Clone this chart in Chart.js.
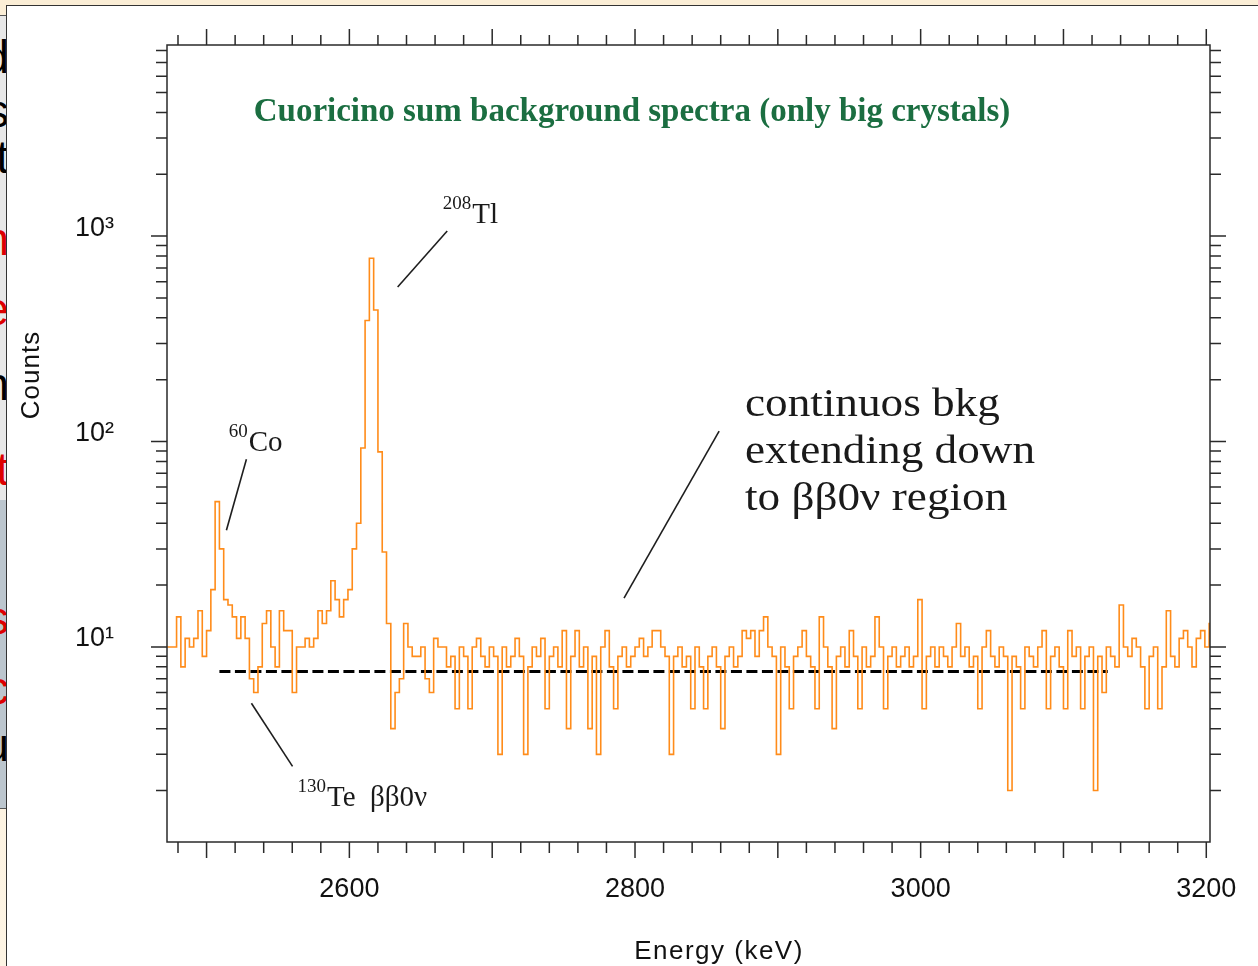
<!DOCTYPE html>
<html>
<head>
<meta charset="utf-8">
<script src="https://cdn.jsdelivr.net/npm/chart.js@4.4.1/dist/chart.umd.min.js"></script>
<style>
  html, body { margin: 0; padding: 0; }
  body { width: 1258px; height: 966px; overflow: hidden; position: relative;
         background: linear-gradient(#fbeed6, #fdf4e4); }
  #panel { position: absolute; left: 6px; top: 5px; right: 0; bottom: 0; background: #fff;
           border-left: 1.5px solid #333; border-top: 1.5px solid #333; }
  .strip { position: absolute; left: 0; width: 6px; overflow: hidden; }
  .strip span { position: absolute; right: -3px; font: 46px 'Liberation Sans', sans-serif; line-height: 1; }
  canvas { position: absolute; left: 0; top: 0; }
</style>
</head>
<body>
<div id="panel"></div>
<div class="strip" style="top:15px;height:484px;background:#e8e8e8;border-top:1px solid #555;border-bottom:1px solid #555;">
  <span style="top:18px;color:#000">d</span>
  <span style="top:72px;color:#000">s</span>
  <span style="top:118px;color:#000">t</span>
  <span style="top:200px;color:#d00">n</span>
  <span style="top:270px;color:#d00">e</span>
  <span style="top:345px;color:#000">n</span>
  <span style="top:430px;color:#d00">t</span>
</div>
<div class="strip" style="top:500px;height:308px;background:#bcc6ce;border-bottom:1px solid #555;">
  <span style="top:95px;color:#d00">s</span>
  <span style="top:165px;color:#d00">c</span>
  <span style="top:222px;color:#000">u</span>
</div>
<canvas id="c" width="1258" height="966"></canvas>
<script>
// Cuoricino summed background spectrum, 3 keV bins
const binStart = 2470;          // keV, lower edge of the first bin
const binWidth = 3;             // keV
const counts = [
  10, 10, 10, 14, 8, 11, 10, 11, 15, 9, 12, 19, 51, 30, 17, 16, 14, 11, 14, 11, 7,
  6, 8, 13, 15, 10, 8, 15, 12, 12, 6, 10, 10, 11, 10, 11, 15, 13, 15, 21, 17,
  14, 17, 19, 30, 40, 93, 388, 780, 437, 89, 29, 13, 4, 6, 7, 13, 10, 9, 9, 10,
  7, 6, 11, 10, 10, 8, 9, 5, 10, 9, 5, 10, 11, 9, 8, 10, 9, 3, 10, 8,
  9, 11, 9, 3, 8, 10, 9, 11, 5, 9, 10, 8, 12, 4, 9, 12, 8, 10, 4, 9,
  3, 10, 12, 8, 5, 9, 10, 8, 9, 10, 11, 9, 10, 12, 12, 10, 9, 3, 9, 10,
  8, 9, 5, 10, 8, 5, 9, 10, 8, 4, 9, 10, 8, 9, 12, 11, 12, 9, 12, 14,
  10, 9, 3, 10, 8, 5, 9, 10, 12, 9, 8, 5, 14, 10, 8, 4, 9, 10, 8, 12,
  9, 5, 10, 8, 9, 14, 10, 5, 9, 10, 8, 9, 10, 8, 9, 17, 5, 9, 10, 8,
  10, 9, 8, 10, 13, 9, 10, 8, 9, 5, 10, 12, 9, 8, 10, 9, 2, 9, 8, 5,
  10, 9, 8, 10, 12, 5, 9, 10, 8, 5, 12, 9, 10, 5, 9, 10, 2, 9, 6, 10,
  9, 8, 16, 10, 9, 11, 10, 8, 5, 9, 10, 5, 8, 15, 9, 8, 11, 12, 10, 8,
  11, 12, 10, 13
];

// flat continuum level drawn across the ββ0ν region
const bkgLevel = 7.6;
const bkgFrom = 2509;
const bkgTo = 3131;

// axis ticks and labels
const xRange = [2472.3, 3202.6];
const yRange = [1.123, 8515];
const xTickStep = 20;
const xMajorStep = 100;
const xLabelValues = [2600, 2800, 3000, 3200];
const yDecades = [10, 100, 1000];
const yDecadeLabels = ['10\u00B9', '10\u00B2', '10\u00B3'];

// peak labels: superscript, name, text anchor [keV, counts], pointer [[keV, counts], [keV, counts]]
const peakNotes = [
  { sup: '208', name: 'Tl', at: [2665.4, 1157], line: [[2668.5, 1058], [2633.8, 565]] },
  { sup: '60', name: 'Co', at: [2515.5, 89.7], line: [[2527.9, 82.0], [2513.9, 37.0]] },
  { sup: '130', name: 'Te  \u03B2\u03B20\u03BD', at: [2563.7, 1.69], line: [[2531.4, 5.32], [2560.2, 2.62]] }
];
const bkgNote = {
  lines: ['continuos bkg', 'extending down', 'to \u03B2\u03B20\u03BD region'],
  at: [2877, 132.9],
  line: [[2858.9, 112.3], [2792.3, 17.3]]
};
const titleText = 'Cuoricino sum background spectra (only big crystals)';

const AXIS_FONT = "'Liberation Sans', 'DejaVu Sans', sans-serif";
const SERIF = "'Liberation Serif', 'DejaVu Serif', serif";

// histogram as left-edge points joined with step-before segments
const histPoints = counts.map((c, i) => ({ x: binStart + i * binWidth, y: c }));
histPoints.push({ x: binStart + counts.length * binWidth, y: counts[counts.length - 1] });

function noOverhang(scale) {
  scale.paddingTop = 0; scale.paddingBottom = 0;
  scale.paddingLeft = 0; scale.paddingRight = 0;
}

const frameTicks = {
  id: 'frameTicks',
  afterDraw(chart) {
    const { ctx, chartArea: a, scales: { x, y } } = chart;
    ctx.save();
    ctx.strokeStyle = '#2a2a2a';
    ctx.lineWidth = 1.5;
    ctx.beginPath();
    x.ticks.forEach(t => {
      const px = x.getPixelForValue(t.value);
      const major = t.value % xMajorStep === 0;
      ctx.moveTo(px, a.bottom); ctx.lineTo(px, a.bottom + (major ? 16 : 11));
      ctx.moveTo(px, a.top); ctx.lineTo(px, a.top - (major ? 16 : 10));
    });
    y.ticks.forEach(t => {
      const py = y.getPixelForValue(t.value);
      const major = yDecades.includes(t.value);
      ctx.moveTo(a.left, py); ctx.lineTo(a.left - (major ? 16 : 11), py);
      ctx.moveTo(a.right, py); ctx.lineTo(a.right + (major ? 16 : 11), py);
    });
    ctx.stroke();
    ctx.strokeRect(a.left, a.top, a.right - a.left, a.bottom - a.top);

    // axis titles
    ctx.fillStyle = '#111';
    ctx.font = '26px ' + AXIS_FONT;
    ctx.textAlign = 'center';
    ctx.textBaseline = 'middle';
    ctx.save();
    ctx.translate(a.left - 135, a.top + 330);
    ctx.rotate(-Math.PI / 2);
    ctx.letterSpacing = '1px';
    ctx.fillText('Counts', 0, 0);
    ctx.restore();
    ctx.save();
    ctx.letterSpacing = '1.5px';
    ctx.fillText('Energy (keV)', a.left + 552, a.bottom + 110);
    ctx.restore();
    ctx.restore();
  }
};

const notesPlugin = {
  id: 'notes',
  afterDatasetsDraw(chart) {
    const { ctx, chartArea: a, scales: { x, y } } = chart;
    const P = ([e, v]) => [x.getPixelForValue(e), y.getPixelForValue(v)];
    ctx.save();
    // pointer lines
    ctx.strokeStyle = '#1e1e1e';
    ctx.lineWidth = 1.6;
    [...peakNotes, bkgNote].forEach(n => {
      const [x0, y0] = P(n.line[0]);
      const [x1, y1] = P(n.line[1]);
      ctx.beginPath(); ctx.moveTo(x0, y0); ctx.lineTo(x1, y1); ctx.stroke();
    });
    // isotope labels
    ctx.fillStyle = '#1a1a1a';
    ctx.textAlign = 'left';
    ctx.textBaseline = 'alphabetic';
    peakNotes.forEach(n => {
      const [px, py] = P(n.at);
      ctx.font = '19px ' + SERIF;
      ctx.fillText(n.sup, px, py - 14);
      const w = ctx.measureText(n.sup).width;
      ctx.font = '29px ' + SERIF;
      ctx.fillText(n.name, px + w + 1, py);
    });
    // continuum note, widened slightly to a book-face width
    ctx.font = '40px ' + SERIF;
    const widest = Math.max(...bkgNote.lines.map(s => ctx.measureText(s).width));
    const sx = 290 / widest;
    const [bx, by] = P(bkgNote.at);
    bkgNote.lines.forEach((s, i) => {
      ctx.save();
      ctx.translate(bx, by + i * 47);
      ctx.scale(sx, 1);
      ctx.fillText(s, 0, 0);
      ctx.restore();
    });
    // title inside the frame
    ctx.fillStyle = '#1b6e41';
    ctx.font = 'bold 33px ' + SERIF;
    ctx.textAlign = 'center';
    ctx.fillText(titleText, a.left + 465, a.top + 76);
    ctx.restore();
  }
};

new Chart(document.getElementById('c'), {
  type: 'line',
  data: {
    datasets: [
      {
        data: histPoints,
        stepped: true,
        borderColor: '#ff8c1a',
        borderWidth: 1.6,
        pointRadius: 0,
        fill: false
      },
      {
        data: [{ x: bkgFrom, y: bkgLevel }, { x: bkgTo, y: bkgLevel }],
        borderColor: '#000',
        borderWidth: 3,
        borderDash: [11, 4.5],
        pointRadius: 0,
        fill: false
      }
    ]
  },
  options: {
    responsive: false,
    devicePixelRatio: 1,
    animation: false,
    layout: { padding: { left: 0, top: 45, right: 48, bottom: 0 } },
    plugins: { legend: { display: false }, tooltip: { enabled: false } },
    scales: {
      x: {
        type: 'linear',
        min: xRange[0],
        max: xRange[1],
        grid: { display: false, drawTicks: false },
        border: { display: false },
        afterBuildTicks(scale) {
          const t = [];
          for (let v = Math.ceil(xRange[0] / xTickStep) * xTickStep; v <= xRange[1]; v += xTickStep) t.push({ value: v });
          scale.ticks = t;
        },
        afterFit(scale) { scale.height = 124; noOverhang(scale); },
        ticks: {
          autoSkip: false,
          maxRotation: 0,
          padding: 31,
          color: '#111',
          font: { family: AXIS_FONT, size: 27 },
          callback: v => (xLabelValues.includes(v) ? String(v) : '')
        }
      },
      y: {
        type: 'logarithmic',
        min: yRange[0],
        max: yRange[1],
        grid: { display: false, drawTicks: false },
        border: { display: false },
        afterBuildTicks(scale) {
          const t = [];
          [1, 10, 100, 1000].forEach(d => {
            for (let m = 1; m <= 9; m++) {
              const v = m * d;
              if (v >= yRange[0] && v <= yRange[1]) t.push({ value: v });
            }
          });
          scale.ticks = t;
        },
        afterFit(scale) { scale.width = 167; noOverhang(scale); },
        ticks: {
          autoSkip: false,
          padding: 53,
          labelOffset: -8,
          color: '#111',
          font: { family: AXIS_FONT, size: 27 },
          callback: v => {
            const i = yDecades.indexOf(v);
            return i >= 0 ? yDecadeLabels[i] : '';
          }
        }
      }
    }
  },
  plugins: [frameTicks, notesPlugin]
});
</script>
</body>
</html>
